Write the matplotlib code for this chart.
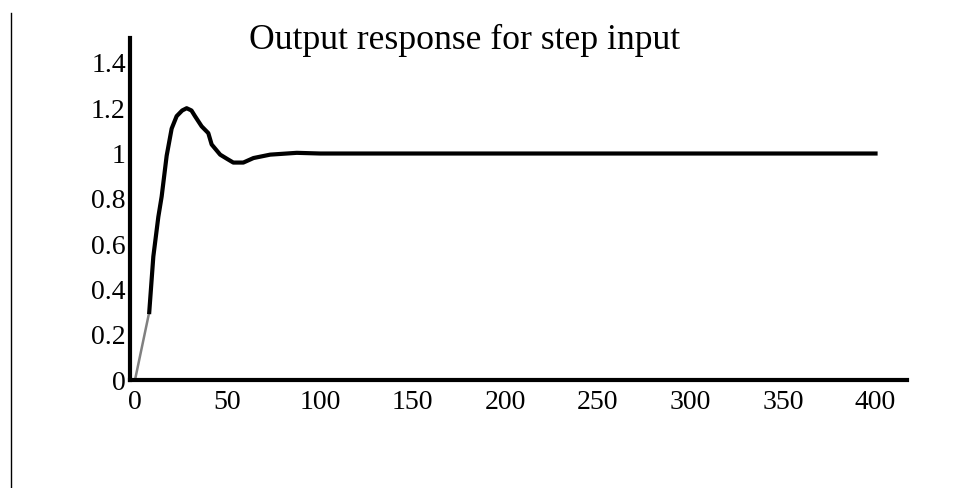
import matplotlib
matplotlib.use('Agg')
import matplotlib.pyplot as plt
from matplotlib.lines import Line2D

# step response
t_ramp = [0, 7.7]
y_ramp = [0.0, 0.30]

t_resp = [7.7, 9.9, 12.6, 14.4, 17.1, 19.8, 22.5, 25.5, 27.9, 30.5, 32.4, 36.0,
          39.6, 41.4, 46.0, 50.0, 53.1, 58.5, 64.0, 73.0, 87.4, 100, 200, 300, 400]
y_resp = [0.30, 0.545, 0.72, 0.81, 0.99, 1.11, 1.165, 1.19, 1.20, 1.19, 1.165, 1.12,
          1.09, 1.04, 0.995, 0.975, 0.96, 0.96, 0.98, 0.995, 1.003, 1.0, 1.0, 1.0, 1.0]

x_ticks = [0, 50, 100, 150, 200, 250, 300, 350, 400]
y_ticks = [0, 0.2, 0.4, 0.6, 0.8, 1.0, 1.2, 1.4]
y_tick_labels = ['0', '0.2', '0.4', '0.6', '0.8', '1', '1.2', '1.4']

plt.rcParams['font.family'] = ['Liberation Serif', 'DejaVu Serif']

W, H = 954, 488
fig = plt.figure(figsize=(W / 100, H / 100), dpi=100)
ax = fig.add_axes([130 / W, (H - 380) / H, (907 - 130) / W, (380 - 38) / H])

ax.plot(t_ramp, y_ramp, color='#808080', linewidth=1.8)
ax.plot(t_resp, y_resp, color='black', linewidth=3.0, solid_joinstyle='round')

ax.set_xlim(-2.7, 417)
ax.set_ylim(0, 1.51)
ax.set_xticks(x_ticks)
ax.set_xticklabels([str(v) for v in x_ticks])
ax.set_yticks(y_ticks)
ax.set_yticklabels(y_tick_labels)
ax.tick_params(axis='y', length=0, labelsize=20, pad=3)
ax.tick_params(axis='x', length=0, labelsize=20, pad=7)

for side in ['top', 'right']:
    ax.spines[side].set_visible(False)
for side in ['left', 'bottom']:
    ax.spines[side].set_linewidth(3.0)

fig.text(465 / W, 1 - 49 / H, 'Output response for step input',
         ha='center', va='baseline', fontsize=25.7)

# thin frame line at the left edge
fig.add_artist(Line2D([11 / W, 11 / W], [0, 1 - 13 / H], color='black',
                      linewidth=1.0, transform=fig.transFigure))

fig.savefig('out.png', dpi=100)
